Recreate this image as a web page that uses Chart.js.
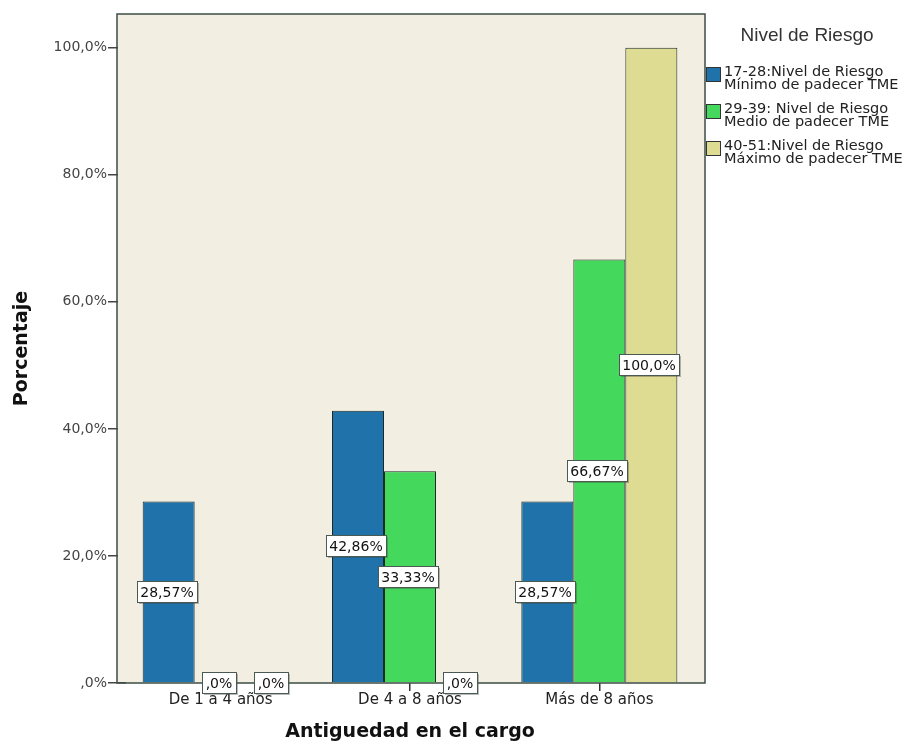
<!DOCTYPE html>
<html>
<head>
<meta charset="utf-8">
<script src="https://cdn.jsdelivr.net/npm/chart.js@4"></script>
<style>
  html, body { margin: 0; padding: 0; background: #ffffff; }
  #wrap { width: 904px; height: 749px; }
</style>
</head>
<body>
<div id="wrap"><canvas id="riesgoChart" width="904" height="749"></canvas></div>
<script>
'use strict';

const categorias = ['De 1 a 4 años', 'De 4 a 8 años', 'Más de 8 años'];
const riesgoMinimo = [28.57, 42.86, 28.57];
const riesgoMedio = [0, 33.33, 66.67];
const riesgoMaximo = [0, 0, 100];
const yTicks = [0, 20, 40, 60, 80, 100];
const legendTitle = 'Nivel de Riesgo';
const legendLines = [
  ['17-28:Nivel de Riesgo', 'Mínimo de padecer TME'],
  ['29-39: Nivel de Riesgo', 'Medio de padecer TME'],
  ['40-51:Nivel de Riesgo', 'Máximo de padecer TME']
];
const colores = ['#1f72aa', '#44d85c', '#dedb93'];

const fontFam = '"DejaVu Sans", "Liberation Sans", Arial, sans-serif';
const frame = { left: 117, right: 705 };
const fondo = '#f2efe2';

function pct(v) {
  let s = (v === Math.round(v) ? v.toFixed(1) : v.toFixed(2)).replace('.', ',');
  if (s.startsWith('0,')) s = s.slice(1);
  return s + '%';
}

// fondo y marco del area de graficos (un poco mas ancho que las categorias)
const plotBackground = {
  id: 'plotBackground',
  beforeDraw(chart) {
    const { ctx, chartArea: a } = chart;
    ctx.save();
    ctx.fillStyle = fondo;
    ctx.fillRect(frame.left, a.top, frame.right - frame.left, a.bottom - a.top);
    ctx.restore();
  },
  beforeDatasetsDraw(chart) {
    // tapa la parte interior de las marcas del eje y
    const { ctx, chartArea: a } = chart;
    ctx.save();
    ctx.fillStyle = fondo;
    ctx.fillRect(frame.left + 1, a.top, a.left - frame.left, a.bottom - a.top - 1);
    ctx.restore();
  },
  afterDatasetsDraw(chart) {
    const { ctx, chartArea: a } = chart;
    ctx.save();
    ctx.strokeStyle = '#3d4d45';
    ctx.lineWidth = 1.5;
    ctx.strokeRect(frame.left, a.top, frame.right - frame.left, a.bottom - a.top);
    ctx.restore();
  }
};

// etiquetas con caja blanca en el centro de cada barra
const boxLabels = {
  id: 'boxLabels',
  afterDraw(chart) {
    const ctx = chart.ctx;
    ctx.save();
    ctx.font = '14px ' + fontFam;
    ctx.textAlign = 'center';
    ctx.textBaseline = 'middle';
    chart.data.datasets.forEach((ds, i) => {
      chart.getDatasetMeta(i).data.forEach((bar, j) => {
        const txt = pct(ds.data[j]);
        const w = Math.round(ctx.measureText(txt).width + 7);
        const h = 21;
        const cy = Math.round((bar.y + bar.base) / 2);
        const x = Math.round(bar.x - w / 2) - 2;
        const y = cy - Math.round(h / 2);
        ctx.fillStyle = 'rgba(60,60,60,0.35)';
        ctx.fillRect(x + 2, y + 2, w, h);
        ctx.fillStyle = '#ffffff';
        ctx.fillRect(x, y, w, h);
        ctx.strokeStyle = '#4a5a50';
        ctx.lineWidth = 1;
        ctx.strokeRect(x + 0.5, y + 0.5, w, h);
        ctx.fillStyle = '#111111';
        ctx.fillText(txt, x + w / 2, cy + 1);
      });
    });
    ctx.restore();
  }
};

// leyenda a la derecha con etiquetas de dos lineas
const sideLegend = {
  id: 'sideLegend',
  afterDraw(chart) {
    const ctx = chart.ctx;
    const x0 = frame.right + 1;
    ctx.save();
    ctx.fillStyle = '#333333';
    ctx.textBaseline = 'middle';
    ctx.textAlign = 'center';
    ctx.font = '19px "Liberation Sans", Arial, sans-serif';
    ctx.fillText(legendTitle, 807, 36);
    ctx.textAlign = 'left';
    ctx.font = '14.5px ' + fontFam;
    chart.data.datasets.forEach((ds, i) => {
      const top = 67 + i * 37;
      ctx.fillStyle = ds.backgroundColor;
      ctx.fillRect(x0, top, 15, 15);
      ctx.strokeStyle = '#333333';
      ctx.lineWidth = 1;
      ctx.strokeRect(x0 + 0.5, top + 0.5, 14, 14);
      ctx.fillStyle = '#222222';
      ctx.fillText(legendLines[i][0], x0 + 18, top + 5);
      ctx.fillText(legendLines[i][1], x0 + 18, top + 18);
    });
    ctx.restore();
  }
};

const chartGraphics = {
  type: 'bar',
  data: {
    labels: categorias,
    datasets: [
      { label: legendLines[0].join(' '), data: riesgoMinimo, backgroundColor: colores[0] },
      { label: legendLines[1].join(' '), data: riesgoMedio, backgroundColor: colores[1] },
      { label: legendLines[2].join(' '), data: riesgoMaximo, backgroundColor: colores[2] }
    ].map(d => Object.assign(d, {
      borderColor: '#1e2a24',
      borderWidth: 1,
      borderSkipped: 'bottom',
      barPercentage: 1.0,
      categoryPercentage: 0.824
    }))
  },
  options: {
    responsive: false,
    animation: false,
    layout: { padding: { top: 14, right: 210, left: 0, bottom: 0 } },
    plugins: {
      legend: { display: false },
      tooltip: { enabled: false }
    },
    scales: {
      x: {
        grid: { drawOnChartArea: false, offset: false, tickLength: 8, color: '#333333', lineWidth: 1.5 },
        border: { display: false },
        ticks: {
          color: '#222222',
          padding: 0,
          font: { family: fontFam, size: 15 }
        },
        title: {
          display: true,
          text: 'Antiguedad en el cargo',
          color: '#111111',
          padding: { top: 0, bottom: 6 },
          font: { family: fontFam, size: 19, weight: 'bold' }
        },
        afterFit(scale) { scale.height = 66; }
      },
      y: {
        min: 0,
        max: 105.3,
        afterBuildTicks(scale) { scale.ticks = yTicks.map(v => ({ value: v })); },
        grid: { drawOnChartArea: false, tickLength: 18, color: '#444444', lineWidth: 1.5 },
        border: { display: false },
        ticks: {
          color: '#444444',
          padding: 1,
          font: { family: fontFam, size: 14 },
          callback: v => pct(v)
        },
        title: {
          display: true,
          text: 'Porcentaje',
          color: '#111111',
          padding: { top: 11, bottom: 0 },
          font: { family: fontFam, size: 19, weight: 'bold' }
        },
        afterFit(scale) { scale.width = 126; }
      }
    }
  },
  plugins: [plotBackground, boxLabels, sideLegend]
};

let canvasChart = document.getElementById('riesgoChart').getContext('2d');
const myChart = new Chart(canvasChart, chartGraphics);
</script>
</body>
</html>
